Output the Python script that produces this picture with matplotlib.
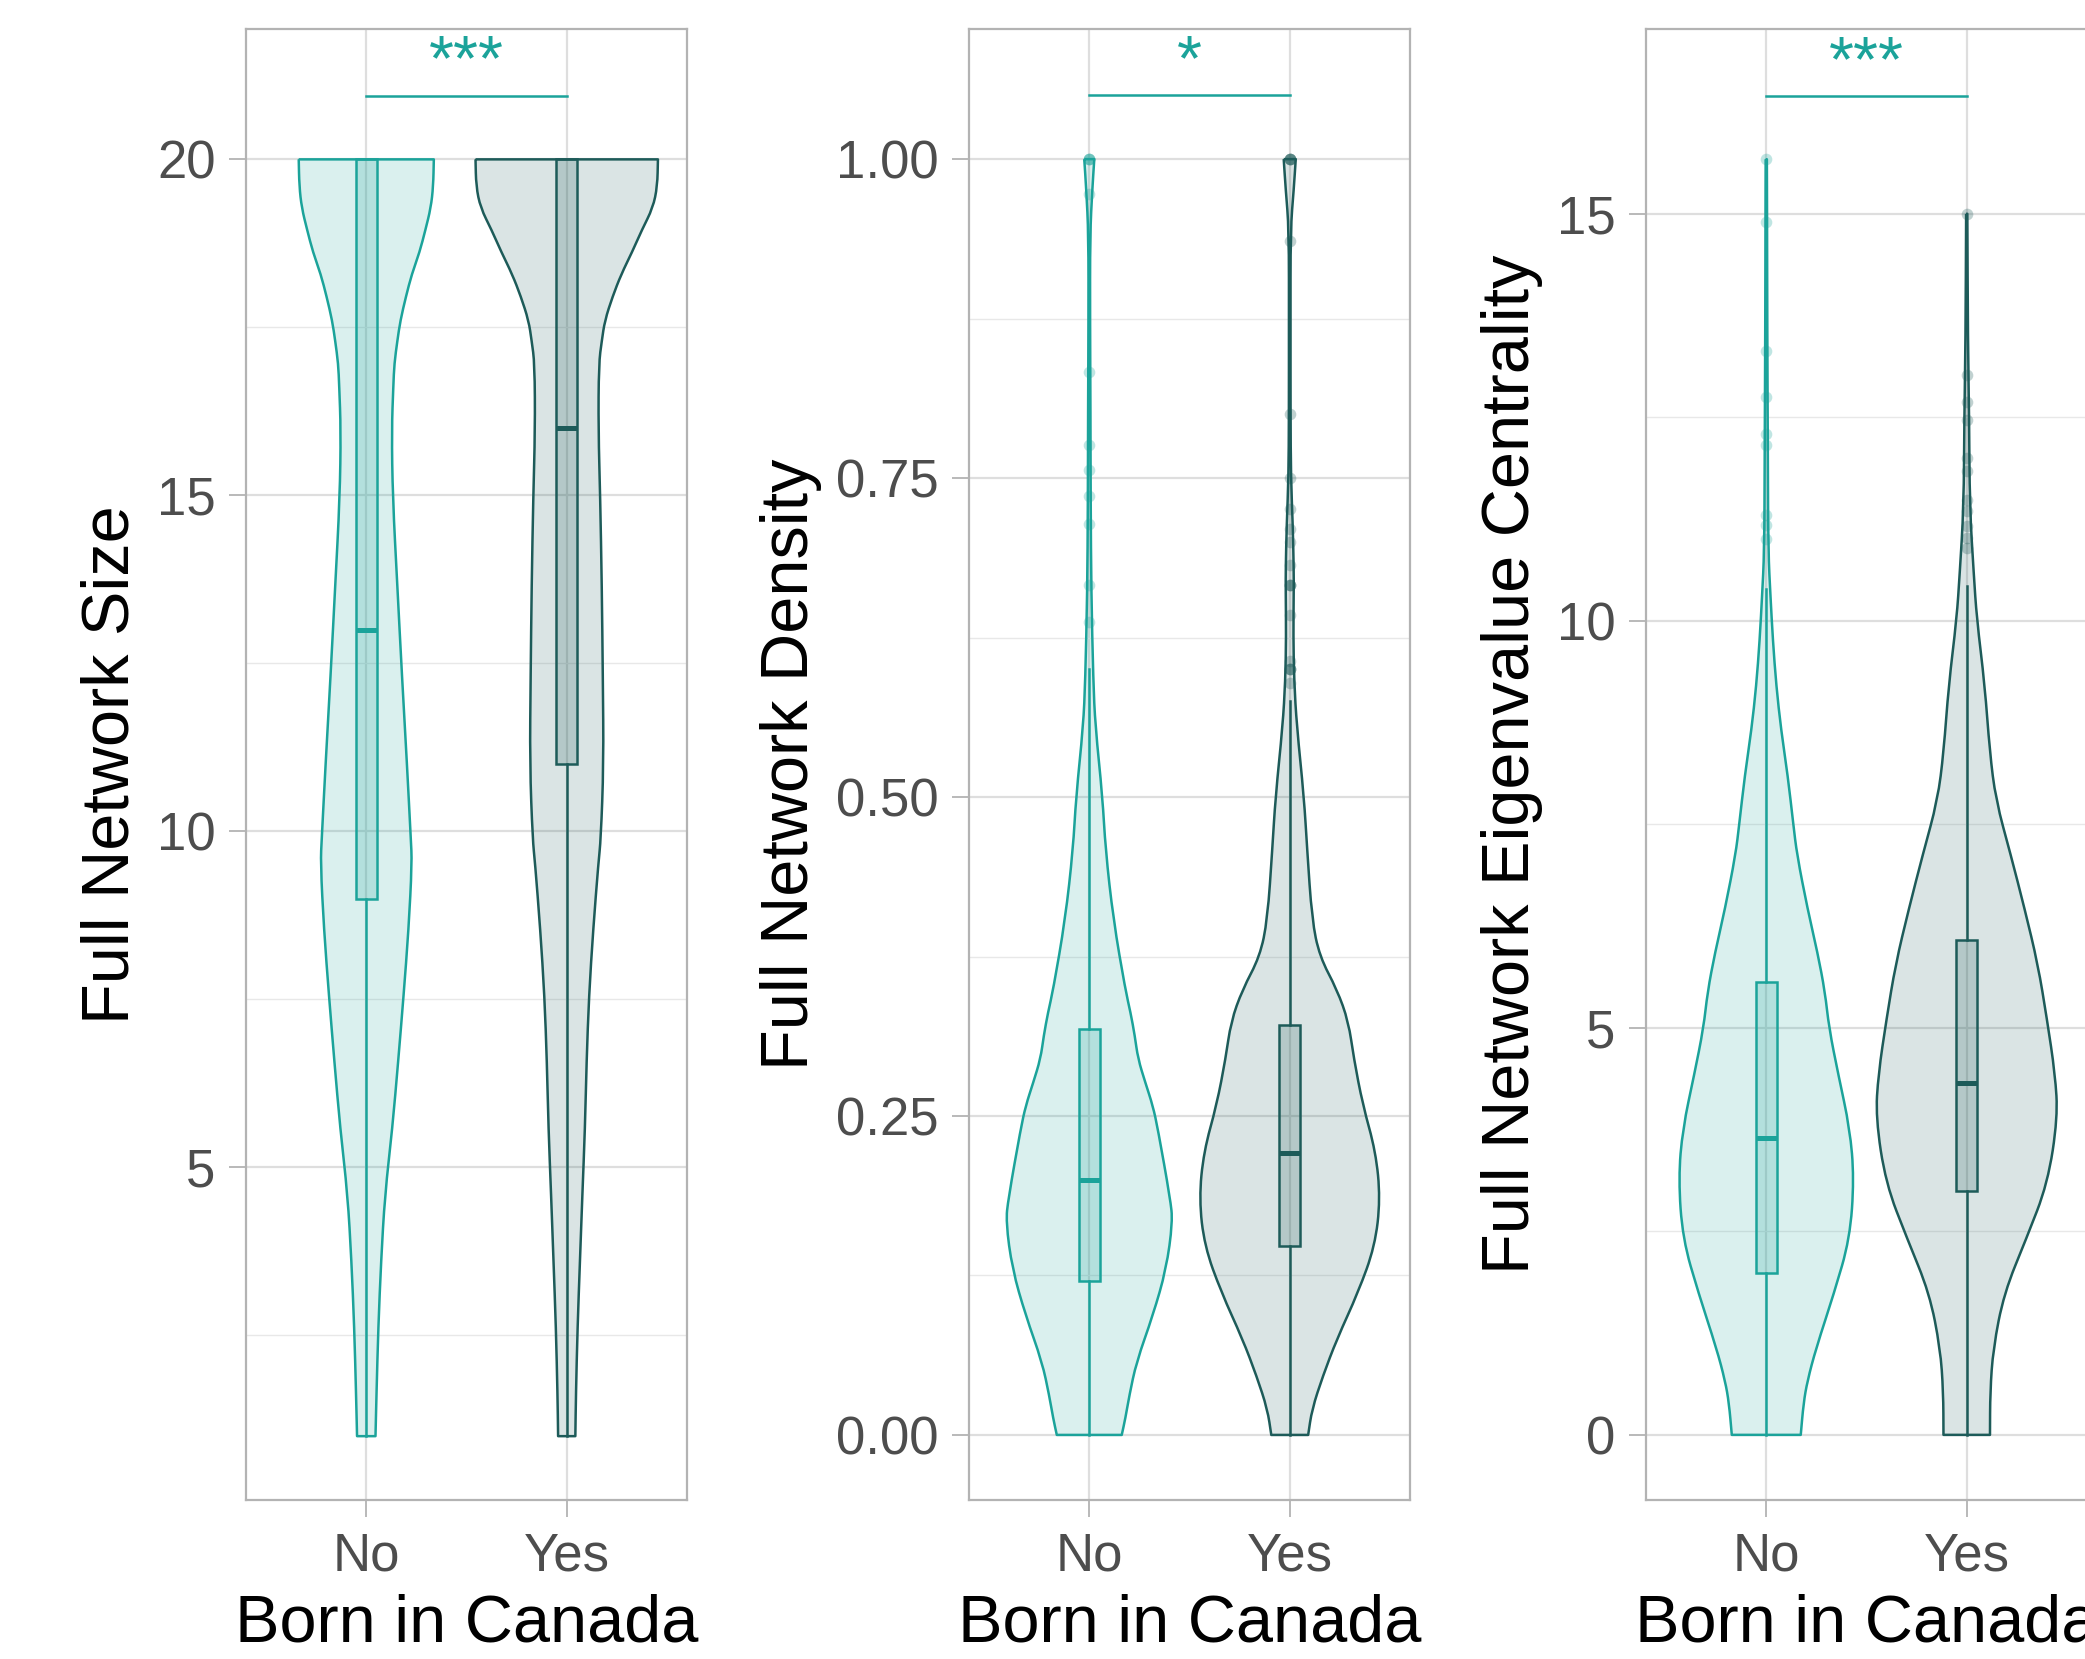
import numpy as np
import matplotlib.pyplot as plt
from matplotlib.patches import Rectangle, PathPatch
from matplotlib.path import Path
from matplotlib.ticker import FixedLocator

plt.rcParams['font.family'] = ['Liberation Sans', 'DejaVu Sans']

groups = ["No", "Yes"]
colors = ["#1BA39A", "#1D5B59"]
xlabel = "Born in Canada"

# ---- Full Network Size ----
size_no_y = [20.0, 19.6, 19.28, 18.95, 18.62, 18.29, 17.96, 17.6, 17.3, 16.96, 16.63, 15.97, 14.97,
             13.65, 12.32, 11.0, 9.9, 9.53, 8.54, 7.55, 6.57, 5.58, 4.59, 3.61, 2.62, 1.63, 1.0]
size_no_w = [0.337, 0.334, 0.322, 0.295, 0.266, 0.227, 0.198, 0.17, 0.155, 0.14, 0.135, 0.127, 0.132,
             0.155, 0.178, 0.203, 0.222, 0.228, 0.211, 0.186, 0.159, 0.130, 0.093, 0.074, 0.060, 0.051, 0.046]
size_yes_y = [20.0, 19.6, 19.28, 18.95, 18.62, 18.29, 17.96, 17.6, 17.3, 16.96, 15.97, 14.97, 13.65,
              12.32, 11.0, 9.88, 9.53, 8.54, 7.55, 6.57, 5.58, 4.59, 3.61, 2.62, 1.63, 1.0]
size_yes_w = [0.455, 0.452, 0.43, 0.375, 0.326, 0.272, 0.229, 0.19, 0.175, 0.16, 0.158, 0.167, 0.175,
              0.18, 0.184, 0.17, 0.158, 0.132, 0.111, 0.099, 0.091, 0.078, 0.066, 0.054, 0.046, 0.043]
# q1, median, q3, lower whisker, upper whisker
size_box_no = [9.0, 13.0, 20.0, 1.0, 20.0]
size_box_yes = [11.0, 16.0, 20.0, 1.0, 20.0]
size_out_no = []
size_out_yes = []

# ---- Full Network Density ----
dens_no_y = [1.0, 0.976, 0.941, 0.871, 0.80, 0.731, 0.661, 0.591, 0.556, 0.5, 0.459, 0.404, 0.349,
             0.331, 0.313, 0.295, 0.276, 0.258, 0.24, 0.185, 0.167, 0.13, 0.094, 0.057, 0.031, 0.013, 0.0]
dens_no_w = [0.025, 0.015, 0.004, 0.004, 0.006, 0.007, 0.010, 0.020, 0.030, 0.066, 0.081, 0.12, 0.18,
             0.206, 0.227, 0.243, 0.28, 0.317, 0.342, 0.404, 0.416, 0.384, 0.318, 0.235, 0.2, 0.18, 0.162]
dens_yes_y = [1.0, 0.976, 0.945, 0.87, 0.80, 0.75, 0.714, 0.679, 0.661, 0.626, 0.591, 0.556, 0.5,
              0.459, 0.404, 0.375, 0.349, 0.324, 0.295, 0.259, 0.222, 0.185, 0.148, 0.112, 0.075,
              0.046, 0.02, 0.0]
dens_yes_w = [0.03, 0.02, 0.004, 0.004, 0.004, 0.006, 0.015, 0.02, 0.02, 0.018, 0.022, 0.035, 0.071,
              0.087, 0.111, 0.149, 0.236, 0.293, 0.32, 0.364, 0.429, 0.452, 0.425, 0.342, 0.235,
              0.165, 0.111, 0.092]
dens_box_no = [0.121, 0.20, 0.318, 0.0, 0.60]
dens_box_yes = [0.148, 0.221, 0.321, 0.0, 0.575]
dens_out_no = [1.0, 1.0, 1.0, 0.973, 0.833, 0.776, 0.756, 0.736, 0.714, 0.666, 0.637]
dens_out_yes = [1.0, 1.0, 1.0, 1.0, 0.936, 0.80, 0.75, 0.726, 0.71, 0.70, 0.682, 0.666, 0.666,
                0.666, 0.643, 0.607, 0.60, 0.60, 0.60, 0.589]

# ---- Full Network Eigenvalue Centrality ----
eig_no_y = [15.67, 14.96, 13.6, 11.95, 10.85, 10.3, 9.76, 9.2, 8.66, 8.1, 7.5, 7.13, 6.46, 5.92, 5.44,
            5.0, 4.43, 3.76, 3.15, 2.41, 1.74, 1.06, 0.66, 0.39, 0.0]
eig_no_w = [0.003, 0.004, 0.005, 0.008, 0.010, 0.021, 0.033, 0.05, 0.074, 0.107, 0.135, 0.153, 0.206,
            0.256, 0.293, 0.313, 0.359, 0.417, 0.438, 0.417, 0.338, 0.248, 0.205, 0.186, 0.172]
eig_yes_y = [15.0, 13.43, 12.5, 11.4, 10.58, 10.03, 9.21, 8.39, 7.8, 7.13, 6.46, 5.78, 5.11, 4.43, 3.9,
             3.09, 2.41, 1.74, 1.06, 0.53, 0.0]
eig_yes_w = [0.003, 0.006, 0.012, 0.015, 0.035, 0.05, 0.09, 0.115, 0.145, 0.219, 0.289, 0.355, 0.4,
             0.441, 0.454, 0.404, 0.297, 0.186, 0.132, 0.117, 0.116]
eig_box_no = [1.99, 3.65, 5.56, 0.0, 10.39]
eig_box_yes = [2.99, 4.32, 6.08, 0.0, 10.43]
eig_out_no = [15.67, 14.9, 13.32, 12.75, 12.3, 12.16, 11.3, 11.18, 11.0]
eig_out_yes = [15.0, 13.02, 12.69, 12.47, 12.0, 11.84, 11.48, 11.35, 11.16, 11.02, 10.9]

titles = ["Full Network Size", "Full Network Density", "Full Network Eigenvalue Centrality"]
yticks = [[5, 10, 15, 20], [0, 0.25, 0.5, 0.75, 1.0], [0, 5, 10, 15]]
ytick_labels = [["5", "10", "15", "20"], ["0.00", "0.25", "0.50", "0.75", "1.00"],
                ["0", "5", "10", "15"]]
yminor = [[2.5, 7.5, 12.5, 17.5], [0.125, 0.375, 0.625, 0.875], [2.5, 7.5, 12.5]]
ylims = [(0.05, 21.94), (-0.051, 1.102), (-0.80, 17.27)]
sig_y = [20.95, 1.05, 16.45]
sig_text = ["***", "*", "***"]

panels = [
    ((size_no_y, size_no_w), (size_yes_y, size_yes_w), size_box_no, size_box_yes, size_out_no, size_out_yes),
    ((dens_no_y, dens_no_w), (dens_yes_y, dens_yes_w), dens_box_no, dens_box_yes, dens_out_no, dens_out_yes),
    ((eig_no_y, eig_no_w), (eig_yes_y, eig_yes_w), eig_box_no, eig_box_yes, eig_out_no, eig_out_yes),
]


def rounded_side(pts):
    # quadratic bezier through mid-points, corners at the read points act as controls
    verts = [pts[0], ((pts[0][0] + pts[1][0]) / 2, (pts[0][1] + pts[1][1]) / 2)]
    codes = [Path.LINETO, Path.LINETO]
    for k in range(1, len(pts) - 1):
        mid = ((pts[k][0] + pts[k + 1][0]) / 2, (pts[k][1] + pts[k + 1][1]) / 2)
        verts += [pts[k], mid]
        codes += [Path.CURVE3, Path.CURVE3]
    verts.append(pts[-1])
    codes.append(Path.LINETO)
    return verts, codes


def draw_violin(ax, x0, ys, hw, color):
    left = [(x0 - w, y) for y, w in zip(ys, hw)]
    right = [(x0 + w, y) for y, w in zip(ys, hw)][::-1]
    lv, lc = rounded_side(left)
    rv, rc = rounded_side(right)
    verts = lv + rv + [left[0]]
    codes = [Path.MOVETO] + lc[1:] + rc + [Path.LINETO]
    path = Path(verts, codes)
    ax.add_patch(PathPatch(path, facecolor=color, alpha=0.16, lw=0, zorder=2))
    ax.add_patch(PathPatch(path, facecolor='none', edgecolor=color, lw=1.8, zorder=3,
                           joinstyle='round'))


def draw_box(ax, x0, stats, color):
    q1, med, q3, lo, hi = stats
    bw = 0.052
    ax.add_patch(Rectangle((x0 - bw, q1), 2 * bw, q3 - q1, facecolor=color, alpha=0.2,
                           edgecolor='none', zorder=4))
    ax.add_patch(Rectangle((x0 - bw, q1), 2 * bw, q3 - q1, facecolor='none',
                           edgecolor=color, lw=1.8, zorder=5))
    ax.plot([x0 - bw, x0 + bw], [med, med], color=color, lw=3.6, zorder=6, solid_capstyle='butt')
    if lo < q1:
        ax.plot([x0, x0], [lo, q1], color=color, lw=1.8, zorder=5)
    if hi > q3:
        ax.plot([x0, x0], [q3, hi], color=color, lw=1.8, zorder=5)


fig = plt.figure(figsize=(20.85, 16.59), dpi=100)
lefts = [246 / 2085, 969 / 2085, 1646 / 2085]
for i, (vno, vyes, bno, byes, ono, oyes) in enumerate(panels):
    ax = fig.add_axes([lefts[i], 1 - 1500 / 1659, 441 / 2085, 1471 / 1659])
    ax.set_xlim(0.4, 2.6)
    ax.set_ylim(*ylims[i])

    for j, (v, b, o) in enumerate([(vno, bno, ono), (vyes, byes, oyes)]):
        x0 = j + 1
        draw_violin(ax, x0, v[0], v[1], colors[j])
        draw_box(ax, x0, b, colors[j])
        if o:
            ax.scatter([x0] * len(o), o, s=70, color=colors[j], alpha=0.28, lw=0, zorder=7)

    # significance bracket
    ax.plot([1, 2], [sig_y[i], sig_y[i]], color=colors[0], lw=1.8, zorder=6)
    ax.annotate(sig_text[i], xy=(1.5, sig_y[i]), xytext=(0, 23), textcoords='offset points',
                ha='center', va='center', fontsize=46, color=colors[0])

    ax.set_xticks([1, 2])
    ax.set_xticklabels(groups)
    ax.set_yticks(yticks[i])
    ax.set_yticklabels(ytick_labels[i])
    ax.yaxis.set_minor_locator(FixedLocator(yminor[i]))
    ax.grid(which='major', color='#DEDEDE', lw=1.6, zorder=0)
    ax.grid(which='minor', axis='y', color='#E8E8E8', lw=1.0, zorder=0)
    ax.set_axisbelow(True)
    ax.tick_params(which='major', length=12, width=1.3, color='#B3B3B3',
                   labelsize=38, labelcolor='#4D4D4D', pad=10)
    ax.tick_params(axis='x', pad=11)
    ax.tick_params(which='minor', length=0)
    for s in ax.spines.values():
        s.set_color('#B3B3B3')
        s.set_linewidth(1.6)
    ax.set_ylabel(titles[i], fontsize=48, color='black', labelpad=10)
    ax.set_xlabel(xlabel, fontsize=48, color='black', labelpad=8)

fig.savefig("out.png", dpi=100)
